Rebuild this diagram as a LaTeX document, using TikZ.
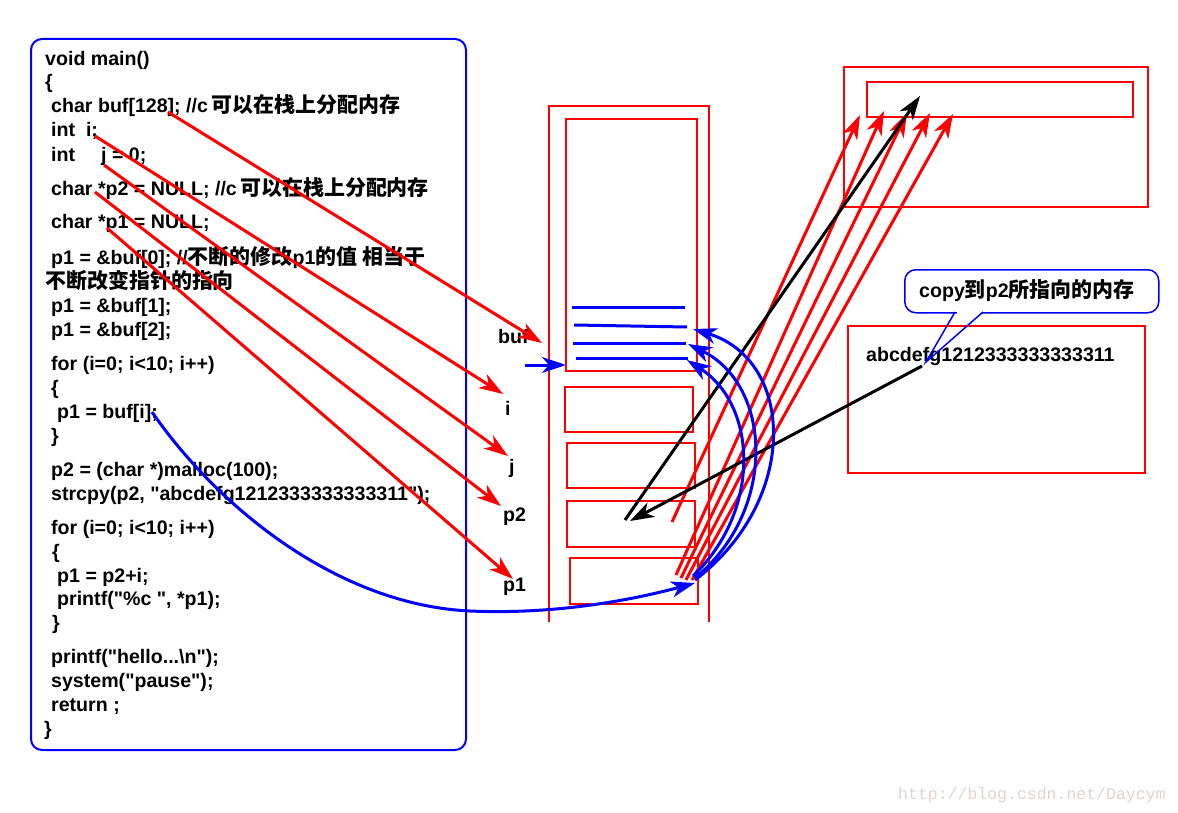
\documentclass[tikz,border=0pt]{standalone}
\usepackage{fontspec}
\setmainfont{Liberation Sans}[Ligatures=TeXOff]
\setmonofont{Liberation Mono}
\newfontfamily\cjk[Scale=1.07]{Noto Sans CJK SC}
\usetikzlibrary{arrows.meta}
\newcommand{\zh}[1]{{\cjk\bfseries #1}}
\newcommand{\dq}{\symbol{34}}
\definecolor{wm}{RGB}{222,212,212}
\begin{document}
\begin{tikzpicture}[x=1pt,y=-1pt,
  font=\fontsize{19.6pt}{24pt}\selectfont\bfseries,
  code/.style={anchor=base west,inner sep=0pt},
  lbl/.style={anchor=base west,inner sep=0pt},
  redbox/.style={draw=red,line width=2pt,anchor=north west,inner sep=0pt},
  tipstyle/.style={-{Stealth[length=24pt,width=16pt,inset=7pt]}},
  redarrow/.style={draw=red,line width=3pt,tipstyle},
  bluearrow/.style={draw=blue,line width=3pt,tipstyle},
  blackarrow/.style={draw=black,line width=3pt,tipstyle},
  blueline/.style={draw=blue,line width=3pt}]
\useasboundingbox (0,0) rectangle (1178,813);

% code box
\draw[blue,line width=2pt,rounded corners=11pt] (31,39) rectangle (466,750);
\node[code] (l1) at (45,66) {void main()};
\node[code] (l2) at (45,89) {\{};
\node[code] (l3) at (51,113) {char buf[128]; //c\,\zh{可以在栈上分配内存}};
\node[code] (l4) at (51,137) {int\ \ i;};
\node[code] (l5) at (51,162) {int\hspace{26pt}j = 0;};
\node[code] (l6) at (51,196) {char *p2 = NULL; //c\,\zh{可以在栈上分配内存}};
\node[code] (l7) at (51,229) {char *p1 = NULL;};
\node[code] (l8) at (51,264) {p1 = \&buf[0]; //\zh{不断的修改}p1\zh{的值 相当于}};
\node[code] (l9) at (45,288) {\zh{不断改变指针的指向}};
\node[code] (l10) at (51,312) {p1 = \&buf[1];};
\node[code] (l11) at (51,336) {p1 = \&buf[2];};
\node[code] (l12) at (51,370) {for (i=0; i<10; i++)};
\node[code] (l13) at (51,394) {\{};
\node[code] (l14) at (57,418) {p1 = buf[i];};
\node[code] (l15) at (51,442) {\}};
\node[code] (l16) at (51,476) {p2 = (char *)malloc(100);};
\node[code] (l17) at (51,500) {strcpy(p2, \dq abcdefg1212333333333311\dq);};
\node[code] (l18) at (51,534) {for (i=0; i<10; i++)};
\node[code] (l19) at (52,558) {\{};
\node[code] (l20) at (57,582) {p1 = p2+i;};
\node[code] (l21) at (57,605) {printf(\dq\%c \dq, *p1);};
\node[code] (l22) at (52,629) {\}};
\node[code] (l23) at (51,663) {printf(\dq hello...\textbackslash n\dq);};
\node[code] (l24) at (51,687) {system(\dq pause\dq);};
\node[code] (l25) at (51,711) {return ;};
\node[code] (l26) at (44,735) {\}};

% stack column
\draw[red,line width=2pt] (549,622) -- (549,106) -- (709,106) -- (709,622);
\node[redbox,minimum width=131pt,minimum height=252pt] (bufbox) at (565,118) {};
\node[redbox,minimum width=128pt,minimum height=45pt] (ibox) at (564,386) {};
\node[redbox,minimum width=128pt,minimum height=45pt] (jbox) at (566,442) {};
\node[redbox,minimum width=128pt,minimum height=46pt] (p2box) at (566,500) {};
\node[redbox,minimum width=128pt,minimum height=46pt] (p1box) at (569,557) {};

% blue lines inside buf
\draw[blueline] (572,307) -- (685,307);
\draw[blueline] (574,325) -- (687,327);
\draw[blueline] (573,343) -- (686,343);
\draw[blueline] (576,358) -- (688,358);

% labels
\node[lbl] (Lbuf) at (498,343) {buf};
\node[lbl] (Li) at (505,415) {i};
\node[lbl] (Lj) at (509,473) {j};
\node[lbl] (Lp2) at (503,521) {p2};
\node[lbl] (Lp1) at (503,591) {p1};

% heap boxes
\node[redbox,minimum width=304pt,minimum height=140pt] (heap) at (843,66) {};
\node[redbox,minimum width=266pt,minimum height=35pt] (heapin) at (866,81) {};
\node[redbox,minimum width=297pt,minimum height=147pt] (strbox) at (847,325) {};
\node[lbl] (strtxt) at (866,361) {abcdefg1212333333333311};

% coordinates
\coordinate (sBuf) at (168,112); \coordinate (tBuf) at (542,343);
\coordinate (sI) at (95,136);    \coordinate (tI) at (503,394);
\coordinate (sJ) at (104,165);   \coordinate (tJ) at (508,456);
\coordinate (sP2) at (95,192);   \coordinate (tP2) at (501,506);
\coordinate (sP1) at (107,228);  \coordinate (tP1) at (513,579);
\coordinate (bs) at (525,365);   \coordinate (bt) at (566,365);
\coordinate (r1s) at (672,522);  \coordinate (r1t) at (860,115);
\coordinate (r2s) at (676,575);  \coordinate (r2t) at (884,111);
\coordinate (r3s) at (681,578);  \coordinate (r3t) at (907,113);
\coordinate (r4s) at (686,580);  \coordinate (r4t) at (930,113);
\coordinate (r5s) at (692,580);  \coordinate (r5t) at (953,114);
\coordinate (k1s) at (625,520);  \coordinate (k1t) at (920,96);
\coordinate (k2s) at (922,366);  \coordinate (k2t) at (630,521);
\coordinate (cs) at (152,412);   \coordinate (cm) at (470,611);  \coordinate (ct) at (695,583);
\coordinate (a1s) at (695,580);  \coordinate (a1t) at (693,329);
\coordinate (a2s) at (695,578);  \coordinate (a2t) at (688,344);
\coordinate (a3s) at (693,576);  \coordinate (a3t) at (687,360);

% red arrows from code to stack labels
\draw[redarrow] (sBuf) -- (tBuf);
\draw[redarrow] (sI) -- (tI);
\draw[redarrow] (sJ) -- (tJ);
\draw[redarrow] (sP2) -- (tP2);
\draw[redarrow] (sP1) -- (tP1);
\draw[bluearrow] (bs) -- (bt);

% red arrows to heap
\draw[redarrow] (r1s) -- (r1t);
\draw[redarrow] (r2s) -- (r2t);
\draw[redarrow] (r3s) -- (r3t);
\draw[redarrow] (r4s) -- (r4t);
\draw[redarrow] (r5s) -- (r5t);

% black arrows
\draw[blackarrow] (k1s) -- (k1t);
\draw[blackarrow] (k2s) -- (k2t);

% blue curves
\draw[bluearrow] (cs) .. controls (220,510) and (340,605) .. (cm)
  .. controls (560,615) and (640,598) .. (ct);
\draw[bluearrow] (a1s) .. controls (800,500) and (795,360) .. (a1t);
\draw[bluearrow] (a2s) .. controls (778,510) and (772,385) .. (a2t);
\draw[bluearrow] (a3s) .. controls (762,510) and (757,405) .. (a3t);

% callout
\node[draw=blue,line width=1.5pt,rounded corners=11pt,anchor=north west,
  minimum width=254pt,minimum height=43pt,inner sep=0pt] (callbox) at (904,269) {};
\fill[white] (956.5,310) rectangle (981.5,314);
\draw[blue,line width=1.5pt] (955,312) -- (926,362) -- (983,312);
\node[lbl] (callout) at (919,297) {copy\zh{到}p2\zh{所指向的内存}};

% watermark
\node[lbl,text=wm,font=\ttfamily\mdseries\fontsize{16.5pt}{18pt}\selectfont] (wmark) at (898,799) {http://blog.csdn.net/Daycym};
\end{tikzpicture}
\end{document}
